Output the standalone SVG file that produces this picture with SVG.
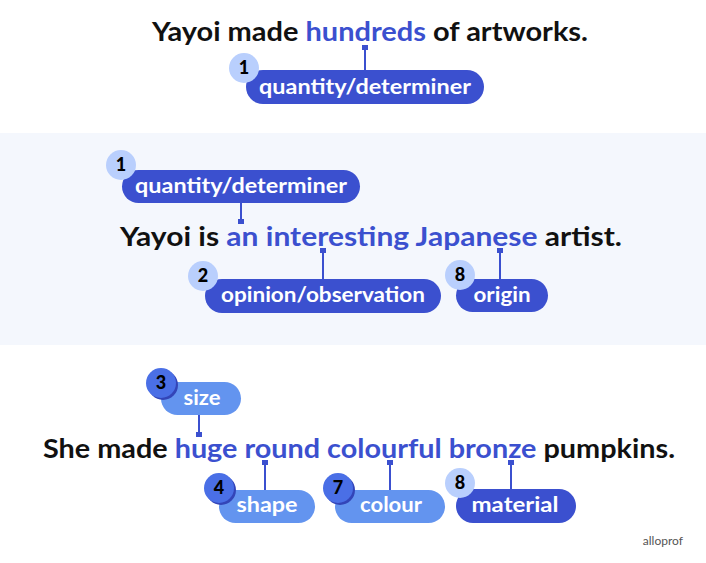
<svg xmlns="http://www.w3.org/2000/svg" width="706" height="563" viewBox="0 0 706 563">
<style>
.s{font-family:Lato,"Liberation Sans",sans-serif;font-weight:bold;font-size:26px;fill:#111;text-anchor:middle}
.h{fill:#3b50cf}
.pd{fill:#3b50cf}
.pl{fill:#6394ef}
.cl{fill:#b9cffd}
.cd{fill:#4a6fe6}
.lt{font-family:Lato,"Liberation Sans",sans-serif;font-weight:bold;font-size:20px;fill:#fff;text-anchor:middle}
.n{font-family:Lato,"Liberation Sans",sans-serif;font-weight:900;font-size:18px;fill:#000;text-anchor:middle}
.c{stroke:#3b50cf;stroke-width:2}
</style>
<rect x="0" y="0" width="706" height="563" fill="#fff"/>
<rect x="0" y="133" width="706" height="212" fill="#f4f7fd"/>
<text class="s" x="370" y="41" textLength="436" lengthAdjust="spacingAndGlyphs">Yayoi made <tspan class="h">hundreds</tspan> of artworks.</text>
<text class="s" x="371" y="246" textLength="502" lengthAdjust="spacingAndGlyphs">Yayoi is <tspan class="h">an interesting Japanese</tspan> artist.</text>
<text class="s" x="359" y="458" textLength="632" lengthAdjust="spacingAndGlyphs">She made <tspan class="h">huge round colourful bronze</tspan> pumpkins.</text>
<g id="connectors" fill="#3b50cf">
<line class="c" x1="365" y1="47" x2="365" y2="70"/><rect x="362" y="45" width="6" height="5"/>
<line class="c" x1="241" y1="203" x2="241" y2="223"/><rect x="238" y="219" width="6" height="5"/>
<line class="c" x1="323" y1="250" x2="323" y2="279"/><rect x="320" y="248" width="6" height="5"/>
<line class="c" x1="500" y1="250" x2="500" y2="279"/><rect x="497" y="248" width="6" height="5"/>
<line class="c" x1="199" y1="415" x2="199" y2="436"/><rect x="196" y="432" width="6" height="5"/>
<line class="c" x1="265" y1="462" x2="265" y2="490"/><rect x="262" y="460" width="6" height="5"/>
<line class="c" x1="390" y1="462" x2="390" y2="490"/><rect x="387" y="460" width="6" height="5"/>
<line class="c" x1="511" y1="462" x2="511" y2="489"/><rect x="508" y="460" width="6" height="5"/>
</g>
<g id="n1"><rect class="pd" x="246" y="70" width="238" height="34" rx="17"/><circle class="cl" cx="244" cy="68" r="15"/><text class="n" x="244" y="74">1</text><text class="lt" x="365" y="94" textLength="212" lengthAdjust="spacingAndGlyphs">quantity/determiner</text></g>
<g id="n2"><rect class="pd" x="122" y="170" width="238" height="33" rx="16.5"/><circle class="cl" cx="121" cy="165" r="15"/><text class="n" x="121" y="171">1</text><text class="lt" x="241" y="193" textLength="212" lengthAdjust="spacingAndGlyphs">quantity/determiner</text></g>
<g id="n3"><rect class="pd" x="205" y="279" width="236" height="34" rx="17"/><circle class="cl" cx="203" cy="276" r="15"/><text class="n" x="203" y="282">2</text><text class="lt" x="323" y="302" textLength="204" lengthAdjust="spacingAndGlyphs">opinion/observation</text></g>
<g id="n4"><rect class="pd" x="456" y="279" width="92" height="33" rx="16.5"/><circle class="cl" cx="460" cy="275" r="15"/><text class="n" x="460" y="281">8</text><text class="lt" x="502" y="302" textLength="57" lengthAdjust="spacingAndGlyphs">origin</text></g>
<g id="n5"><rect class="pl" x="161" y="382" width="80" height="33" rx="16.5"/><circle fill="#3345b8" cx="163" cy="385" r="15"/><circle class="cd" cx="161" cy="383" r="15"/><text class="n" x="161" y="389">3</text><text class="lt" x="202" y="405" textLength="37" lengthAdjust="spacingAndGlyphs">size</text></g>
<g id="n6"><rect class="pl" x="219" y="490" width="96" height="33" rx="16.5"/><circle fill="#3345b8" cx="221" cy="490" r="15"/><circle class="cd" cx="219" cy="488" r="15"/><text class="n" x="219" y="494">4</text><text class="lt" x="267" y="512" textLength="61" lengthAdjust="spacingAndGlyphs">shape</text></g>
<g id="n7"><rect class="pl" x="335" y="490" width="110" height="33" rx="16.5"/><circle fill="#3345b8" cx="340" cy="490" r="15"/><circle class="cd" cx="338" cy="488" r="15"/><text class="n" x="338" y="494">7</text><text class="lt" x="391" y="512" textLength="62" lengthAdjust="spacingAndGlyphs">colour</text></g>
<g id="n8"><rect class="pd" x="456" y="489" width="120" height="34" rx="17"/><circle class="cl" cx="460" cy="483" r="15"/><text class="n" x="460" y="489">8</text><text class="lt" x="515" y="512" textLength="87" lengthAdjust="spacingAndGlyphs">material</text></g>
<text x="683" y="545" font-family="Lato,'Liberation Sans',sans-serif" font-size="12" fill="#555" text-anchor="end">alloprof</text>
</svg>
